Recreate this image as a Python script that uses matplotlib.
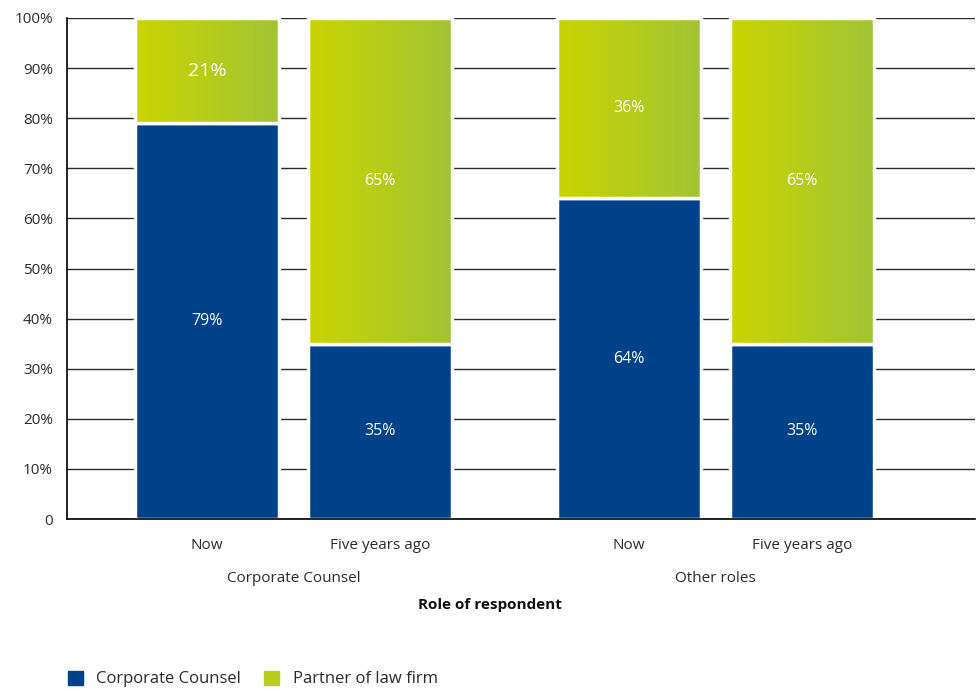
import numpy as np
import matplotlib
matplotlib.use('Agg')
import matplotlib.pyplot as plt
from matplotlib.patches import Patch
from matplotlib.colors import LinearSegmentedColormap
from matplotlib.transforms import blended_transform_factory

plt.rcParams['font.family'] = ['Open Sans', 'DejaVu Sans']

# data
bar_labels = ['Now', 'Five years ago', 'Now', 'Five years ago']
groups = ['Corporate Counsel', 'Other roles']
corporate = [79, 35, 64, 35]
partner = [21, 65, 36, 65]
series_names = ['Corporate Counsel', 'Partner of law firm']

blue = '#00428A'
green_cmap = LinearSegmentedColormap.from_list('g', ['#CAD500', '#A2C436'])
txt = '#2b2b2b'

fig = plt.figure(figsize=(9.79, 6.89), dpi=100)
ax = fig.add_axes([0.0684, 0.2467, 0.9275, 0.7272])

x = np.array([0, 1, 2.44, 3.44])
w = 0.835

ax.set_ylim(0, 100)
ax.set_xlim(-0.81, 4.44)
ax.set_yticks(range(0, 101, 10))
ax.set_yticklabels(['0'] + ['%d%%' % v for v in range(10, 101, 10)])
ax.yaxis.grid(True, color='#2a2a2a', linewidth=1.0)
ax.set_axisbelow(True)
ax.tick_params(axis='y', length=0, pad=10, labelsize=11, labelcolor=txt)
ax.tick_params(axis='x', length=0, pad=14, labelsize=11, labelcolor=txt)
for s in ['top', 'right']:
    ax.spines[s].set_visible(False)
ax.spines['left'].set_color('black')
ax.spines['bottom'].set_color('black')
ax.spines['left'].set_linewidth(1.2)
ax.spines['bottom'].set_linewidth(1.2)

b1 = ax.bar(x, corporate, w, color=blue, edgecolor='white', linewidth=2.5, zorder=2)
b2 = ax.bar(x, partner, w, bottom=corporate, color='none', edgecolor='none', zorder=2)

# green gradient, left to right, clipped to each bar
grad = np.linspace(0, 1, 256).reshape(1, -1)
for p in b2:
    x0, y0 = p.get_x(), p.get_y()
    im = ax.imshow(grad, cmap=green_cmap, extent=[x0, x0 + p.get_width(), y0, y0 + p.get_height()],
                   aspect='auto', zorder=2.1)
    im.set_clip_path(p)
ax.bar(x, partner, w, bottom=corporate, color='none', edgecolor='white', linewidth=2.5, zorder=2.2)
ax.set_xlim(-0.81, 4.44)
ax.set_ylim(0, 100)

for i in range(len(x)):
    ax.text(x[i], corporate[i] / 2, '%d%%' % corporate[i], ha='center', va='center',
            color='white', fontsize=11.5, zorder=3)
    fs = 14 if i == 0 else 11.5
    ax.text(x[i], corporate[i] + partner[i] / 2, '%d%%' % partner[i], ha='center', va='center',
            color='white', fontsize=fs, zorder=3)

ax.set_xticks(x)
ax.set_xticklabels(bar_labels)

tr = blended_transform_factory(ax.transData, fig.transFigure)
ax.text(0.5, 1 - 579 / 689, groups[0], transform=tr, ha='center', va='center', fontsize=11, color=txt)
ax.text(2.94, 1 - 579 / 689, groups[1], transform=tr, ha='center', va='center', fontsize=11, color=txt)
fig.text(0.5, 1 - 605 / 689, 'Role of respondent', ha='center', va='center', fontsize=11,
         fontweight='bold', color='#111111')

handles = [Patch(color=blue), Patch(color='#B8CE1A')]
fig.legend(handles, series_names, loc='center left', bbox_to_anchor=(0.054, 1 - 679 / 689), ncol=2,
           frameon=False, fontsize=12, handlelength=0.9, handleheight=0.9, handletextpad=0.8,
           columnspacing=1.4, labelcolor=txt)

fig.savefig('out.png', dpi=100)
